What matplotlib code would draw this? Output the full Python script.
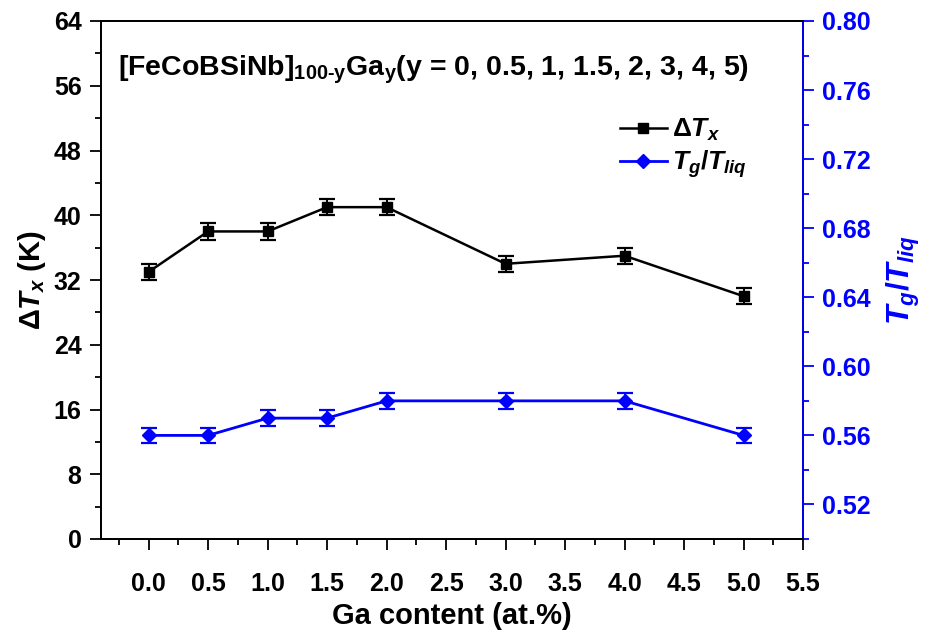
import matplotlib
matplotlib.use("Agg")
import matplotlib.pyplot as plt
from matplotlib.ticker import MultipleLocator, FixedLocator
from matplotlib.lines import Line2D

plt.rcParams['font.family'] = ['Liberation Sans', 'DejaVu Sans']
plt.rcParams['font.weight'] = 'bold'
plt.rcParams['mathtext.fontset'] = 'custom'
plt.rcParams['mathtext.rm'] = 'Liberation Sans:bold'
plt.rcParams['mathtext.bf'] = 'Liberation Sans:bold'
plt.rcParams['mathtext.it'] = 'Liberation Sans:bold:italic'
plt.rcParams['mathtext.sf'] = 'Liberation Sans:bold'

# Data
ga_content = [0.0, 0.5, 1.0, 1.5, 2.0, 3.0, 4.0, 5.0]
delta_tx = [33, 38, 38, 41, 41, 34, 35, 30]
delta_tx_err = [1, 1, 1, 1, 1, 1, 1, 1]
tg_tliq = [0.56, 0.56, 0.57, 0.57, 0.58, 0.58, 0.58, 0.56]
tg_tliq_err = [0.0045] * 8
x_ticks = [0.0, 0.5, 1.0, 1.5, 2.0, 2.5, 3.0, 3.5, 4.0, 4.5, 5.0, 5.5]
left_ticks = [0, 8, 16, 24, 32, 40, 48, 56, 64]
right_ticks = [0.52, 0.56, 0.60, 0.64, 0.68, 0.72, 0.76, 0.80]

BLUE = '#0000ff'
fig = plt.figure(figsize=(9.33, 6.35), dpi=100)
ax = fig.add_axes([101/933, 1-539/635, (803-101)/933, (539-21)/635])
ax2 = ax.twinx()

ax.errorbar(ga_content, delta_tx, yerr=delta_tx_err, color='black', marker='s',
            markersize=7, lw=1.8, capsize=6, capthick=1.6, elinewidth=1.4)
ax2.errorbar(ga_content, tg_tliq, yerr=tg_tliq_err, color=BLUE, marker='D',
             markersize=7.5, lw=2.0, capsize=6, capthick=1.6, elinewidth=1.4)

ax.set_xlim(-0.4, 5.5)
ax.set_ylim(0, 64)
ax2.set_ylim(0.50, 0.80)

ax.xaxis.set_major_locator(FixedLocator(x_ticks))
ax.xaxis.set_minor_locator(MultipleLocator(0.25))
ax.set_xticklabels([f'{v:.1f}' for v in x_ticks])
ax.yaxis.set_major_locator(FixedLocator(left_ticks))
ax.yaxis.set_minor_locator(MultipleLocator(4))
ax2.yaxis.set_major_locator(FixedLocator(right_ticks))
ax2.yaxis.set_minor_locator(MultipleLocator(0.02))
ax2.set_yticklabels([f'{v:.2f}' for v in right_ticks])

for a in (ax, ax2):
    for s in a.spines.values():
        s.set_linewidth(1.3)
ax2.spines['right'].set_color(BLUE)
ax.tick_params(axis='both', which='major', direction='out', length=8, width=1.3,
               labelsize=18, pad=6)
ax.tick_params(axis='both', which='minor', direction='out', length=4, width=1.3)
ax.tick_params(axis='x', pad=16)
ax2.tick_params(axis='y', which='major', direction='out', length=8, width=1.3,
                labelsize=18, colors=BLUE, pad=6)
ax2.tick_params(axis='y', which='minor', direction='out', length=4, width=1.3, colors=BLUE)

ax.set_xlabel('Ga content (at.%)', fontsize=21, fontweight='bold', labelpad=4)
ax.set_ylabel(r'$\mathit{\Delta}T_x$ (K)', fontsize=21, fontweight='bold', labelpad=4)
ax2.set_ylabel(r'$T_g/T_{liq}$', fontsize=23, color=BLUE, labelpad=10)

ax.text(0.024, 0.905,
        r'[FeCoBSiNb]$_{\mathrm{100\text{-}y}}$Ga$_{\mathrm{y}}$(y = 0, 0.5, 1, 1.5, 2, 3, 4, 5)',
        transform=ax.transAxes, fontsize=20.5, fontweight='bold', va='center', ha='left')

h1 = Line2D([], [], color='black', marker='s', markersize=7, lw=1.8)
h2 = Line2D([], [], color=BLUE, marker='D', markersize=7.5, lw=2.0)
ax.legend([h1, h2], [r'$\mathit{\Delta}T_x$', r'$T_g/T_{liq}$'], loc='upper left',
          bbox_to_anchor=(0.705, 0.86), frameon=False, fontsize=19, handlelength=1.8,
          handletextpad=0.2, labelspacing=0.2)

fig.savefig('out.png', dpi=100)
